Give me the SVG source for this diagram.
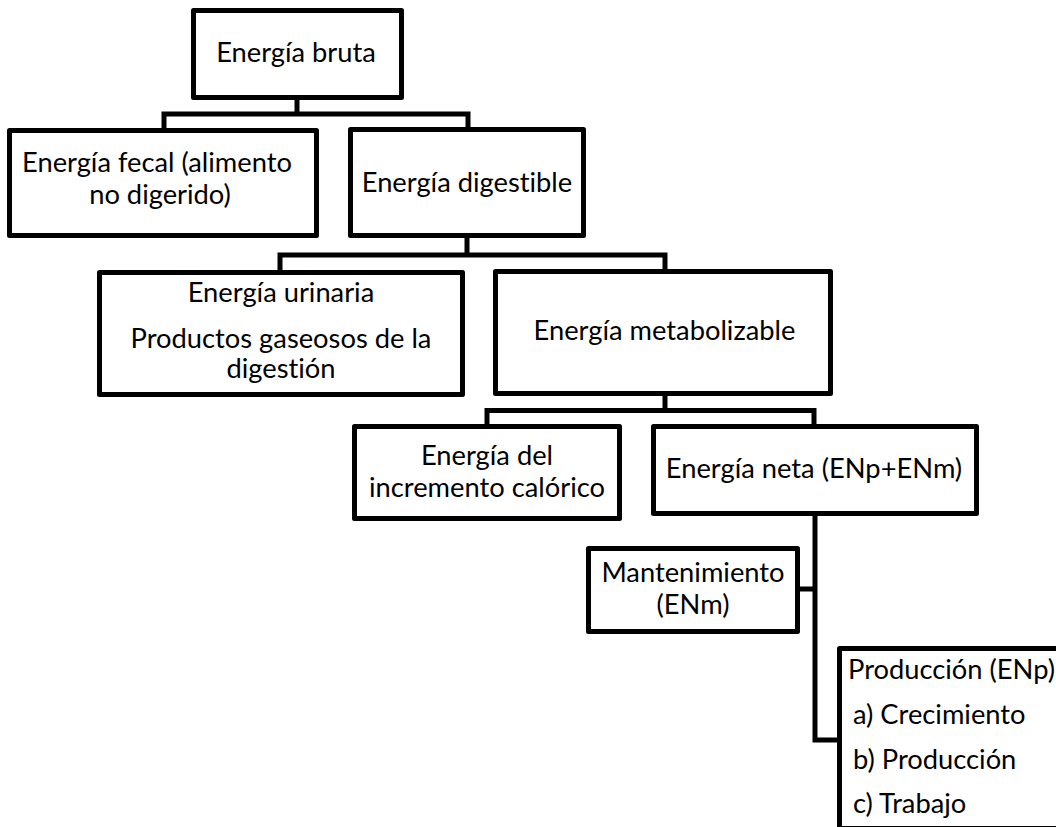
<svg xmlns="http://www.w3.org/2000/svg" width="1056" height="827" viewBox="0 0 1056 827">
<style>
.box{fill:#fff;stroke:#000;stroke-width:5;stroke-linejoin:round}
.t{font-family:Lato,"Liberation Sans",sans-serif;font-size:27.3px;fill:#000;text-anchor:middle;font-variant-ligatures:none}
.l{text-anchor:start}
.c{fill:none;stroke:#000;stroke-width:5;stroke-linejoin:miter;stroke-linecap:square}
</style>
<rect width="1056" height="827" fill="#fff"/>
<g id="connectors">
<path class="c" d="M297,100 V114 M164,127 V114 H468 V126"/>
<path class="c" d="M467,238 V255 M280,269 V255 H665 V268"/>
<path class="c" d="M665,396 V410.5 M487,423 V410.5 H814 V423"/>
<path class="c" d="M815,516 V740 H837 M800,589 H815"/>
</g>
<g id="n1"><rect class="box" x="193.5" y="10.5" width="208" height="87"/><text class="t" x="296" y="62">Energía bruta</text></g>
<g id="n2"><rect class="box" x="9.5" y="130.5" width="307" height="105"/><text class="t" x="157" y="172">Energía fecal (alimento</text><text class="t" x="160" y="204">no digerido)</text></g>
<g id="n3"><rect class="box" x="350.5" y="129.5" width="233" height="106"/><text class="t" x="467" y="192">Energía digestible</text></g>
<g id="n4"><rect class="box" x="99.5" y="272.5" width="363" height="122"/><text class="t" x="281" y="302">Energía urinaria</text><text class="t" x="281" y="348">Productos gaseosos de la</text><text class="t" x="281" y="378">digestión</text></g>
<g id="n5"><rect class="box" x="495.5" y="271.5" width="335" height="122"/><text class="t" x="664.5" y="340">Energía metabolizable</text></g>
<g id="n6"><rect class="box" x="354.5" y="426.5" width="265" height="92"/><text class="t" x="487" y="465">Energía del</text><text class="t" x="487" y="497">incremento calórico</text></g>
<g id="n7"><rect class="box" x="653.5" y="426.5" width="323" height="87"/><text class="t" x="814" y="478">Energía neta (ENp+ENm)</text></g>
<g id="n8"><rect class="box" x="588.5" y="548.5" width="209" height="83"/><text class="t" x="693" y="582">Mantenimiento</text><text class="t" x="693" y="614">(ENm)</text></g>
<g id="n9"><rect class="box" x="839.5" y="648.5" width="240" height="180"/><text class="t l" x="848" y="679">Producción (ENp)</text><text class="t l" x="853" y="724">a) Crecimiento</text><text class="t l" x="853" y="769">b) Producción</text><text class="t l" x="853" y="813">c) Trabajo</text></g>
</svg>
